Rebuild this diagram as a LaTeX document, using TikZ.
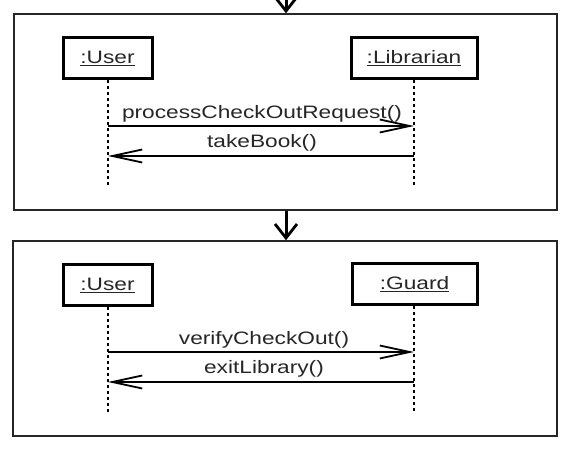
\documentclass[tikz,border=0pt]{standalone}
\usepackage{fontspec}
\setmainfont{Liberation Sans}[FakeStretch=1.26]
\usetikzlibrary{arrows.meta}
\begin{document}
\begin{tikzpicture}[x=1pt,y=-1pt,
  panel/.style={draw=black!85,line width=1.5pt},
  objbox/.style={draw=black,line width=3pt,inner sep=0pt,font=\fontsize{18}{20}\selectfont,text=black!85},
  lifeline/.style={line width=2pt,dash pattern=on 2.5pt off 3.5pt},
  msg/.style={line width=2pt,-{Straight Barb[length=30pt,width=13pt,line width=1.8pt]}},
  flow/.style={line width=3pt,-{Straight Barb[length=14pt,width=22pt,line width=2.8pt]}},
  lbl/.style={font=\fontsize{18}{20}\selectfont,text=black!85,inner sep=0pt,anchor=base}]
\useasboundingbox (0,0) rectangle (574,449);
% panels
\node[panel,minimum width=543pt,minimum height=196pt,inner sep=0pt] (p1) at (285.5,112) {};
\node[panel,minimum width=544pt,minimum height=195pt,inner sep=0pt] (p2) at (285,338.5) {};
% flow arrows
\coordinate (top) at (286,0);
\draw[flow] (top) -- (p1.north -| top);
\draw[flow] (p1.south -| top) -- (p2.north -| top);
% panel 1 objects
\node[objbox,minimum width=89pt,minimum height=41pt] (u1) at (107.5,58.5) {\underline{:User}};
\node[objbox,minimum width=126pt,minimum height=41pt] (l1) at (414,58.5) {\underline{:Librarian}};
\coordinate (u1e) at (108,185);
\coordinate (l1e) at (414,185);
\draw[lifeline] (u1.south -| u1e) -- (u1e);
\draw[lifeline] (l1.south -| l1e) -- (l1e);
\coordinate (m1a) at (108,126);
\coordinate (m1b) at (414,126);
\coordinate (m2a) at (414,156);
\coordinate (m2b) at (108,156);
\draw[msg] (m1a) -- (m1b);
\draw[msg] (m2a) -- (m2b);
\node[lbl] (t1) at (262,118.5) {processCheckOutRequest()};
\node[lbl] (t2) at (262,148) {takeBook()};
% panel 2 objects
\node[objbox,minimum width=89pt,minimum height=41pt] (u2) at (107.5,285.5) {\underline{:User}};
\node[objbox,minimum width=125pt,minimum height=41pt] (g2) at (414.5,284.5) {\underline{:Guard}};
\coordinate (u2e) at (108,412);
\coordinate (g2e) at (414,412);
\draw[lifeline] (u2.south -| u2e) -- (u2e);
\draw[lifeline] (g2.south -| g2e) -- (g2e);
\coordinate (n1a) at (108,352);
\coordinate (n1b) at (414,352);
\coordinate (n2a) at (414,382);
\coordinate (n2b) at (108,382);
\draw[msg] (n1a) -- (n1b);
\draw[msg] (n2a) -- (n2b);
\node[lbl] (t3) at (264,344.5) {verifyCheckOut()};
\node[lbl] (t4) at (264,374) {exitLibrary()};
\end{tikzpicture}
\end{document}
